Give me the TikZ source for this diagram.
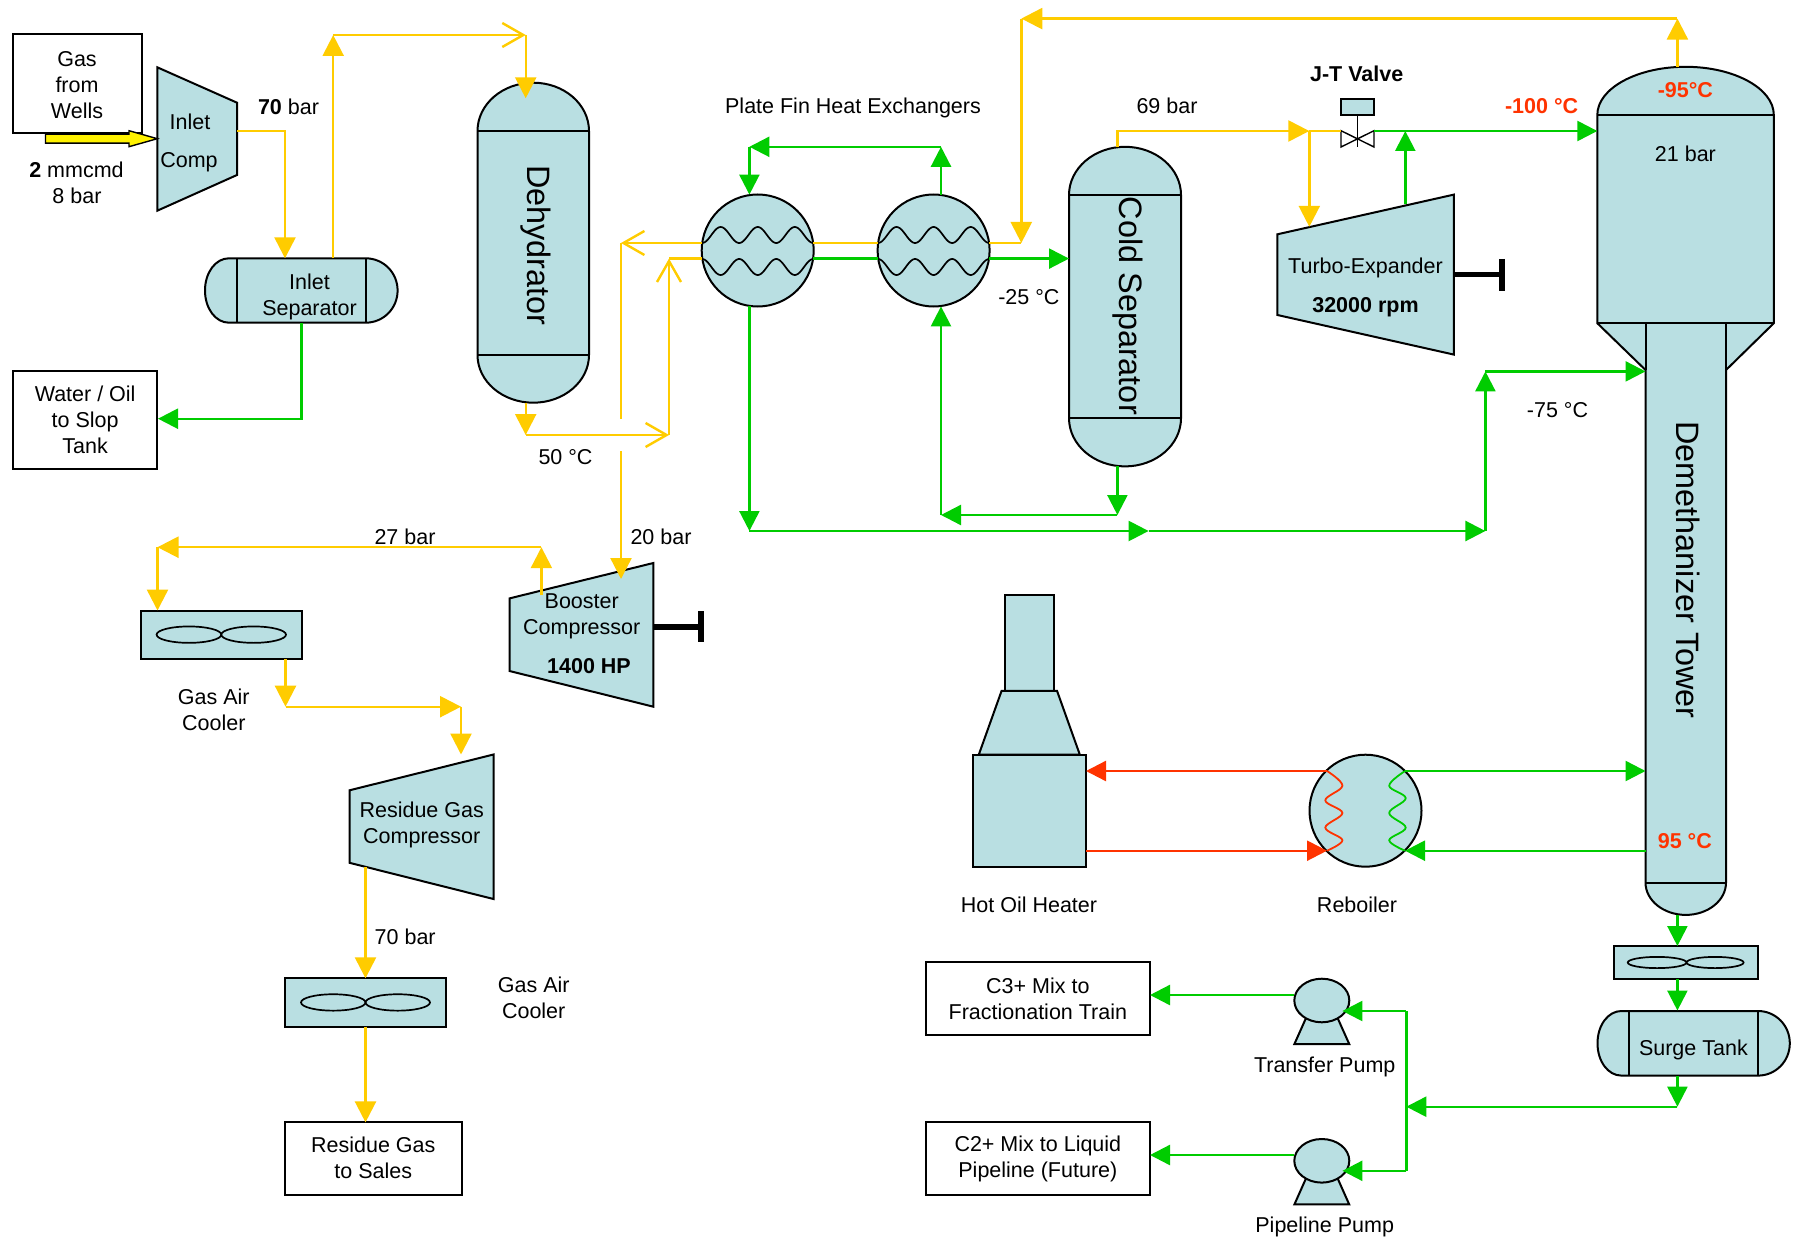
\documentclass[tikz,border=0pt]{standalone}
\usepackage{fontspec}
\setmainfont{Liberation Sans}
\usetikzlibrary{arrows.meta}
\definecolor{tealfill}{HTML}{B9DFE2}
\definecolor{pipeY}{HTML}{FFCC00}
\definecolor{pipeG}{HTML}{00CC00}
\definecolor{pipeR}{HTML}{FF3300}
\tikzset{
  eq/.style={draw=black,fill=tealfill,line width=2pt,line join=miter},
  eqline/.style={draw=black,line width=2pt},
  whitebox/.style={draw=black,fill=white,line width=2pt,rectangle,inner sep=0pt,align=center,font=\txt},
  lab/.style={align=center,font=\txt,inner sep=0pt},
  blab/.style={align=center,font=\txt\bfseries,inner sep=0pt},
  rlab/.style={align=center,font=\txt\bfseries,text=pipeR,inner sep=0pt},
  biglab/.style={font=\bigtxt,rotate=-90,inner sep=0pt},
  ypipe/.style={draw=pipeY,line width=2.4pt},
  gpipe/.style={draw=pipeG,line width=2.4pt},
  rpipe/.style={draw=pipeR,line width=2.4pt},
  ytip/.style={ypipe,-{Triangle[length=21pt,width=21pt,fill=pipeY]}},
  gtip/.style={gpipe,-{Triangle[length=20pt,width=20pt,fill=pipeG]}},
  rtip/.style={rpipe,-{Triangle[length=20pt,width=20pt,fill=pipeR]}},
  yopen/.style={ypipe,-{Straight Barb[length=21pt,width=24pt]}},
  shaft/.style={draw=black,line width=5.5pt},
  hxnode/.style={circle,draw=black,fill=tealfill,line width=2pt,minimum size=112pt,inner sep=0pt},
  wave/.style={draw=black,line width=1.7pt},
}
\newcommand{\txt}{\fontsize{21.5}{26}\selectfont}
\newcommand{\bigtxt}{\fontsize{32.4}{36}\selectfont}
% vertical capsule: x1 x2 ytop ya yb ybot
\newcommand{\vessV}[6]{%
  \pgfmathsetmacro\vmx{(#1+#2)/2}\pgfmathsetmacro\vkx{0.2761*(#2-#1)}%
  \pgfmathsetmacro\vkt{0.5523*(#4-#3)}\pgfmathsetmacro\vkb{0.5523*(#6-#5)}%
  \draw[eq] (#1,#4) .. controls (#1,#4-\vkt) and (\vmx-\vkx,#3) .. (\vmx,#3)
     .. controls (\vmx+\vkx,#3) and (#2,#4-\vkt) .. (#2,#4) -- (#2,#5)
     .. controls (#2,#5+\vkb) and (\vmx+\vkx,#6) .. (\vmx,#6)
     .. controls (\vmx-\vkx,#6) and (#1,#5+\vkb) .. (#1,#5) -- cycle;
  \draw[eqline] (#1,#4) -- (#2,#4) (#1,#5) -- (#2,#5);}
% horizontal capsule: xl xa xb xr y1 y2
\newcommand{\vessH}[6]{%
  \pgfmathsetmacro\vmy{(#5+#6)/2}\pgfmathsetmacro\vky{0.28*(#6-#5)}%
  \pgfmathsetmacro\vkr{0.5523*(#4-#3)}%
  \pgfmathsetmacro\vfl{#2-0.25*(#2-#1)}\pgfmathsetmacro\vcl{#1+0.33*(#2-#1)}%
  \draw[eq] (#2,#5) -- (\vfl,#5) .. controls (\vcl,#5) and (#1,\vmy-\vky) .. (#1,\vmy)
     .. controls (#1,\vmy+\vky) and (\vcl,#6) .. (\vfl,#6) -- (#3,#6)
     .. controls (#3+\vkr,#6) and (#4,\vmy+\vky) .. (#4,\vmy)
     .. controls (#4,\vmy-\vky) and (#3+\vkr,#5) .. (#3,#5) -- cycle;
  \draw[eqline] (#2,#5) -- (#2,#6) (#3,#5) -- (#3,#6);}
% exchanger waves: centre x, upper-mid y, lower-mid y
\newcommand{\hxwaves}[3]{%
  \draw[wave] plot[domain=-55.6:55.6,samples=90,smooth] ({#1+\x},{#2+8*cos(9.7114*(\x+55.6))});
  \draw[wave] plot[domain=-55.6:55.6,samples=90,smooth] ({#1+\x},{#3-8*cos(9.7114*(\x+55.6))});}
% one ellipse: xl xr y ry
\newcommand{\blade}[4]{%
  \pgfmathsetmacro\vbm{(#1+#2)/2}\pgfmathsetmacro\vbk{0.2761*(#2-#1)}\pgfmathsetmacro\vbr{0.5523*#4}%
  \draw[wave] (#1,#3) .. controls (#1,#3-\vbr) and (\vbm-\vbk,#3-#4) .. (\vbm,#3-#4)
     .. controls (\vbm+\vbk,#3-#4) and (#2,#3-\vbr) .. (#2,#3)
     .. controls (#2,#3+\vbr) and (\vbm+\vbk,#3+#4) .. (\vbm,#3+#4)
     .. controls (\vbm-\vbk,#3+#4) and (#1,#3+\vbr) .. (#1,#3) -- cycle;}
% air cooler fan: xl xm xr y ry
\newcommand{\fanblades}[5]{\blade{#1}{#2}{#4}{#5}\blade{#2}{#3}{#4}{#5}}
\begin{document}
\begin{tikzpicture}[x=1pt,y=-1pt]
\useasboundingbox (0,0) rectangle (1795,1238);
\fill[white] (0,0) rectangle (1795,1238);

%% ---------- boxes
\node[whitebox,minimum width=128.5pt,minimum height=98.7pt] (gasbox) at (77.25,83.65) {};
\node[lab] (gastxt) at (77,85) {Gas\\from\\Wells};
\node[whitebox,minimum width=144.3pt,minimum height=98.3pt] (slop) at (85.15,420.15) {Water / Oil\\to Slop\\Tank};
\node[whitebox,minimum width=176.5pt,minimum height=73pt] (sales) at (373.25,1158.2) {Residue Gas\\to Sales};
\node[whitebox,minimum width=224.3pt,minimum height=73pt] (c3) at (1037.85,998.7) {C3+ Mix to\\Fractionation Train};
\node[whitebox,minimum width=224.3pt,minimum height=73pt] (c2) at (1037.85,1158.6) {C2+ Mix to Liquid\\Pipeline (Future)};

%% ---------- compressors / expanders
\draw[eq] (157.3,67.3) -- (237,102.7) -- (237,175) -- (157.3,210.7) -- cycle;
\coordinate (compIn) at (157.3,138.7);
\draw[eq] (509.5,598.4) -- (653.4,563) -- (653.4,706.7) -- (509.5,671) -- cycle;
\draw[eq] (349.5,790.3) -- (493.5,754.5) -- (493.5,899) -- (349.5,862.8) -- cycle;
\draw[eq] (1277.4,234.3) -- (1453.9,194.6) -- (1453.9,354.6) -- (1277.4,315) -- cycle;
\coordinate (exShaft) at (1453.9,274.6);
\coordinate (exEnd) at (1502,274.6);
\draw[shaft] (exShaft) -- (exEnd);
\draw[draw=black,line width=6pt] (1502,259) -- (1502,290.7);
\coordinate (boShaft) at (653.4,627);
\coordinate (boEnd) at (701.4,627);
\draw[shaft] (boShaft) -- (boEnd);
\draw[draw=black,line width=6pt] (701.4,611) -- (701.4,642.4);

%% ---------- vessels
\vessH{205}{237}{365.6}{397.6}{258.3}{322.7}
\vessV{477.5}{589}{82.7}{131}{355}{402.7}
\vessV{1069}{1181}{146.8}{195}{418.2}{466.4}
\vessH{1597.5}{1629.4}{1757.9}{1789.8}{1011}{1075.6}

%% ---------- tower
\draw[eq] (1597.3,115) .. controls (1597.3,88.4) and (1637,66.8) .. (1685.5,66.8)
   .. controls (1734,66.8) and (1773.8,88.4) .. (1773.8,115) -- (1773.8,323.2)
   -- (1726,370) -- (1726,882.6) .. controls (1726,900.4) and (1708,914.9) .. (1685.7,914.9)
   .. controls (1663.5,914.9) and (1645.5,900.4) .. (1645.5,882.6) -- (1645.5,370)
   -- (1597.3,323.2) -- cycle;
\draw[eqline] (1597.3,115) -- (1773.8,115) (1597.3,323.2) -- (1773.8,323.2)
   (1645.5,323.2) -- (1645.5,370) (1726,323.2) -- (1726,370) (1645.5,882.6) -- (1726,882.6);

%% ---------- air coolers
\node[eq,rectangle,inner sep=0pt,minimum width=161.4pt,minimum height=48.3pt] (cooler1) at (221.3,634.65) {};
\fanblades{156.6}{221.3}{286}{634.65}{8.2}
\node[eq,rectangle,inner sep=0pt,minimum width=160.5pt,minimum height=48.3pt] (cooler2) at (365.25,1002.45) {};
\fanblades{301}{365.5}{430}{1002.45}{8.2}
\node[eq,rectangle,inner sep=0pt,minimum width=144.4pt,minimum height=32.4pt] (cooler3) at (1685.7,962.5) {};
\fanblades{1627.7}{1686.5}{1743.6}{962.5}{5.6}

%% ---------- exchangers
\node[hxnode] (hx1) at (757.7,250.5) {};
\hxwaves{757.7}{235}{267}
\node[hxnode] (hx2) at (933.6,250.5) {};
\hxwaves{933.6}{235}{267}

%% ---------- heater
\draw[eq] (1005,594.7) rectangle (1054,690.8);
\draw[eq] (1001.6,690.8) -- (1057,690.8) -- (1079.8,754.6) -- (978.8,754.6) -- cycle;
\node[eq,rectangle,inner sep=0pt,minimum width=113pt,minimum height=112.4pt] (heater) at (1029.5,810.8) {};

%% ---------- reboiler
\node[hxnode] (reb) at (1365.5,810.7) {};
\draw[rpipe,line width=1.8pt] plot[smooth,tension=0.6] coordinates {(1327,771) (1342.4,785.7) (1325.3,800.3) (1342.4,813) (1325.3,827.6) (1342.4,840.2) (1327,850.7)};
\draw[gpipe,line width=1.8pt] plot[smooth,tension=0.6] coordinates {(1405,771) (1389.2,785.7) (1405.7,798.2) (1389.2,813) (1405.7,827.6) (1389.2,840.2) (1405,850.7)};

%% ---------- pumps
\draw[eq] (1305.8,1018.5) -- (1294.4,1044) -- (1349.2,1044) -- (1337.8,1018.5) -- cycle;
\draw[eq] (1321.8,978.7) .. controls (1337,978.7) and (1349.3,988.5) .. (1349.3,1000.5)
  .. controls (1349.3,1012.5) and (1337,1022.3) .. (1321.8,1022.3)
  .. controls (1306.6,1022.3) and (1294.3,1012.5) .. (1294.3,1000.5)
  .. controls (1294.3,988.5) and (1306.6,978.7) .. (1321.8,978.7) -- cycle;
\draw[eq] (1305.8,1178.8) -- (1294.4,1204.4) -- (1349.2,1204.4) -- (1337.8,1178.8) -- cycle;
\draw[eq] (1321.8,1139) .. controls (1337,1139) and (1349.3,1148.8) .. (1349.3,1160.8)
  .. controls (1349.3,1172.8) and (1337,1182.6) .. (1321.8,1182.6)
  .. controls (1306.6,1182.6) and (1294.3,1172.8) .. (1294.3,1160.8)
  .. controls (1294.3,1148.8) and (1306.6,1139) .. (1321.8,1139) -- cycle;

%% ---------- valve
\node[eq,rectangle,inner sep=0pt,minimum width=33pt,minimum height=16.4pt] (valvebox) at (1357.5,106.8) {};
\draw[draw=black,line width=1.4pt] (1357.5,115) -- (1357.5,147);
\draw[draw=black,fill=white,line width=1.4pt] (1341,130.7) -- (1374,147) -- (1374,130.7) -- (1341,147) -- cycle;
\coordinate (valveL) at (1341,131);
\coordinate (valveR) at (1374,131);

%% ---------- named junctions
\coordinate (compOut) at (237,131);
\coordinate (j70) at (285,131);
\coordinate (sepIn) at (285,258.3);
\coordinate (sepTop) at (333.2,258.3);
\coordinate (jUp) at (333.2,35);
\coordinate (jDeh) at (525.7,35);
\coordinate (dehIn) at (525.7,98.3);
\coordinate (sepBot) at (301.6,322.7);
\coordinate (jSlop) at (301.6,418.7);
\coordinate (slopIn) at (158,418.7);
\coordinate (dehBot) at (525.7,402.7);
\coordinate (j50) at (525.7,435);
\coordinate (jRight) at (669,435);
\coordinate (jUp2) at (669,258.6);
\coordinate (hx1Ll) at (702,258.6);
\coordinate (hx1Lu) at (702,243);
\coordinate (jLeft) at (621,243);
\coordinate (gapA) at (621,418.6);
\coordinate (gapB) at (621,451);
\coordinate (boIn) at (621,579);
\coordinate (hx1Ru) at (813.4,243);
\coordinate (hx2Lu) at (877.9,243);
\coordinate (hx1Rl) at (813.4,258.6);
\coordinate (hx2Ll) at (877.9,258.6);
\coordinate (hx2Ru) at (989.3,243);
\coordinate (jHx) at (1021.3,243);
\coordinate (jTop) at (1021.3,18.6);
\coordinate (hx2Rl) at (989.3,258.6);
\coordinate (csIn) at (1069,258.6);
\coordinate (hx2Top) at (941,195);
\coordinate (jG1) at (941,146.8);
\coordinate (jG2) at (749.4,146.8);
\coordinate (hx1Top) at (749.4,194.6);
\coordinate (hx1Bot) at (749.4,306);
\coordinate (jG3) at (749.4,531);
\coordinate (jG4) at (1148.6,531);
\coordinate (jG5) at (1485.4,531);
\coordinate (jG6) at (1485.4,371.4);
\coordinate (towIn2) at (1645.5,371.4);
\coordinate (csBot) at (1117.4,466.4);
\coordinate (jG7) at (1117.4,515);
\coordinate (jG8) at (941,515);
\coordinate (hx2Bot) at (941,306.4);
\coordinate (csTop) at (1117.4,146.8);
\coordinate (jY1) at (1117.4,131);
\coordinate (jY2) at (1309.3,131);
\coordinate (exIn) at (1309.3,226.8);
\coordinate (exOut) at (1405.3,204.3);
\coordinate (jV) at (1405.3,131);
\coordinate (towIn1) at (1597.3,131);
\coordinate (towTop) at (1677.4,66.8);
\coordinate (jT) at (1677.4,18.6);
\coordinate (boOut) at (541.4,595);
\coordinate (jB) at (541.4,547.2);
\coordinate (jC) at (157.5,547.2);
\coordinate (c1In) at (157.5,610.5);
\coordinate (c1Out) at (285.5,658.8);
\coordinate (jC1) at (285.5,706.7);
\coordinate (jC2) at (461,706.7);
\coordinate (rgIn) at (461,754.5);
\coordinate (rgOut) at (365.5,866.7);
\coordinate (c2In) at (365.5,978.3);
\coordinate (c2Out) at (365.5,1026.6);
\coordinate (salesIn) at (365.5,1122.4);
\coordinate (rebRu) at (1405,771);
\coordinate (rebRl) at (1405,850.7);
\coordinate (rebLu) at (1327,771);
\coordinate (rebLl) at (1327,850.7);
\coordinate (heatU) at (1086,771);
\coordinate (heatL) at (1086,850.7);
\coordinate (towU) at (1645.5,771);
\coordinate (towL) at (1645.5,850.7);
\coordinate (towBot) at (1677.4,914.9);
\coordinate (c3In) at (1677.4,946);
\coordinate (c3Out) at (1677.4,978.7);
\coordinate (stIn) at (1677.4,1010.5);
\coordinate (stOut) at (1677.4,1075.6);
\coordinate (jS) at (1677.4,1106.7);
\coordinate (jM) at (1406.3,1106.7);
\coordinate (jMu) at (1406.3,1011);
\coordinate (jMl) at (1406.3,1170.8);
\coordinate (tpIn) at (1342.4,1011);
\coordinate (ppIn) at (1342.4,1170.8);
\coordinate (tpOut) at (1294.4,995);
\coordinate (ppOut) at (1294.4,1155);
\coordinate (c3box) at (1150,995);
\coordinate (c2box) at (1150,1155);

%% ---------- feed block arrow
\draw[draw=black,fill=yellow,line width=1.4pt] (45.5,134.2) -- (129,134.2) -- (129,130.7) -- (compIn) -- (129,146.7) -- (129,143.2) -- (45.5,143.2) -- cycle;

%% ---------- yellow pipes
\draw[ytip] (compOut) -- (j70) -- (sepIn);
\draw[ytip] (sepTop) -- (jUp);
\draw[yopen] (jUp) -- (jDeh);
\draw[ytip] (jDeh) -- (dehIn);
\draw[ytip] (dehBot) -- (j50);
\draw[yopen] (j50) -- (jRight);
\draw[yopen] (jRight) -- (jUp2);
\draw[ypipe] (jUp2) -- (hx1Ll);
\draw[yopen] (hx1Lu) -- (jLeft);
\draw[ypipe] (jLeft) -- (gapA);
\draw[ytip] (gapB) -- (boIn);
\draw[ypipe] (hx1Ru) -- (hx2Lu);
\draw[ypipe] (hx2Ru) -- (jHx);
\draw[ytip] (jTop) -- (jHx);
\draw[ytip] (jT) -- (jTop);
\draw[ytip] (towTop) -- (jT);
\draw[ytip] (csTop) -- (jY1) -- (jY2);
\draw[ypipe] (jY2) -- (valveL);
\draw[ytip] (jY2) -- (exIn);
\draw[ytip] (boOut) -- (jB);
\draw[ytip] (jB) -- (jC);
\draw[ytip] (jC) -- (c1In);
\draw[ytip] (c1Out) -- (jC1);
\draw[ytip] (jC1) -- (jC2);
\draw[ytip] (jC2) -- (rgIn);
\draw[ytip] (rgOut) -- (c2In);
\draw[ytip] (c2Out) -- (salesIn);

%% ---------- green pipes
\draw[gtip] (sepBot) -- (jSlop) -- (slopIn);
\draw[gpipe,line width=3pt] (hx1Rl) -- (hx2Ll);
\draw[gtip] (hx2Rl) -- (csIn);
\draw[gtip] (hx2Top) -- (jG1);
\draw[gtip] (jG1) -- (jG2);
\draw[gtip] (jG2) -- (hx1Top);
\draw[gtip] (hx1Bot) -- (jG3);
\draw[gtip] (jG3) -- (jG4);
\draw[gtip] (jG4) -- (jG5);
\draw[gtip] (jG5) -- (jG6);
\draw[gtip] (jG6) -- (towIn2);
\draw[gtip] (csBot) -- (jG7);
\draw[gtip] (jG7) -- (jG8);
\draw[gtip] (jG8) -- (hx2Bot);
\draw[gpipe] (valveR) -- (jV);
\draw[gtip] (exOut) -- (jV);
\draw[gtip] (jV) -- (towIn1);
\draw[gtip] (rebRu) -- (towU);
\draw[gtip] (towL) -- (rebRl);
\draw[gtip] (towBot) -- (c3In);
\draw[gtip] (c3Out) -- (stIn);
\draw[gtip] (stOut) -- (jS);
\draw[gtip] (jS) -- (jM);
\draw[gpipe] (jMu) -- (jMl);
\draw[gtip] (jMu) -- (tpIn);
\draw[gtip] (jMl) -- (ppIn);
\draw[gtip] (tpOut) -- (c3box);
\draw[gtip] (ppOut) -- (c2box);

%% ---------- red pipes
\draw[rtip] (rebLu) -- (heatU);
\draw[rtip] (heatL) -- (rebLl);

%% ---------- labels
\node[lab] (l1) at (76.5,170) {\textbf{2} mmcmd};
\node[lab] (l2) at (77,196) {8 bar};
\node[lab] (l3) at (190,122) {Inlet};
\node[lab] (l4) at (189,162) {Comp};
\node[lab] (l5) at (288.5,106.7) {\textbf{70} bar};
\node[lab] (l6) at (309.5,296.7) {Inlet\\Separator};
\node[biglab] (l7) at (535.6,245.5) {Dehydrator};
\node[lab] (l8) at (565.5,457.5) {50 °C};
\node[lab] (l9) at (853,107.7) {Plate Fin Heat Exchangers};
\node[lab] (l10) at (1167,105.7) {69 bar};
\node[lab] (l11) at (1028.9,297.5) {-25 °C};
\node[biglab] (l12) at (1127.7,305.9) {Cold Separator};
\node[lab] (l13) at (661,537) {20 bar};
\node[lab] (l14) at (405,537) {27 bar};
\node[blab] (l15) at (1356.7,74) {J-T Valve};
\node[rlab] (l16) at (1541.6,105.7) {-100 °C};
\node[rlab] (l17) at (1685.4,89.8) {-95°C};
\node[lab] (l18) at (1685.4,153.6) {21 bar};
\node[lab] (l19) at (1365.5,267.7) {Turbo-Expander};
\node[blab] (l20) at (1365.5,307.4) {32000 rpm};
\node[lab] (l21) at (1557.5,409.6) {-75 °C};
\node[biglab] (l22) at (1688,570) {Demethanizer Tower};
\node[rlab] (l23) at (1684.8,841.4) {95 °C};
\node[lab] (l24) at (581.7,616) {Booster\\Compressor};
\node[blab] (l25) at (589,665.6) {1400 HP};
\node[lab] (l26) at (213.8,709.5) {Gas Air\\Cooler};
\node[lab] (l27) at (421.7,824.7) {Residue Gas\\Compressor};
\node[lab] (l28) at (405.2,936.7) {70 bar};
\node[lab] (l29) at (533.7,997.6) {Gas Air\\Cooler};
\node[lab] (l30) at (1029,905) {Hot Oil Heater};
\node[lab] (l31) at (1357,905) {Reboiler};
\node[lab] (l32) at (1693.4,1050) {Surge Tank};
\node[lab] (l33) at (1324.7,1066.5) {Transfer Pump};
\node[lab] (l34) at (1324.7,1226.5) {Pipeline Pump};
\end{tikzpicture}
\end{document}
